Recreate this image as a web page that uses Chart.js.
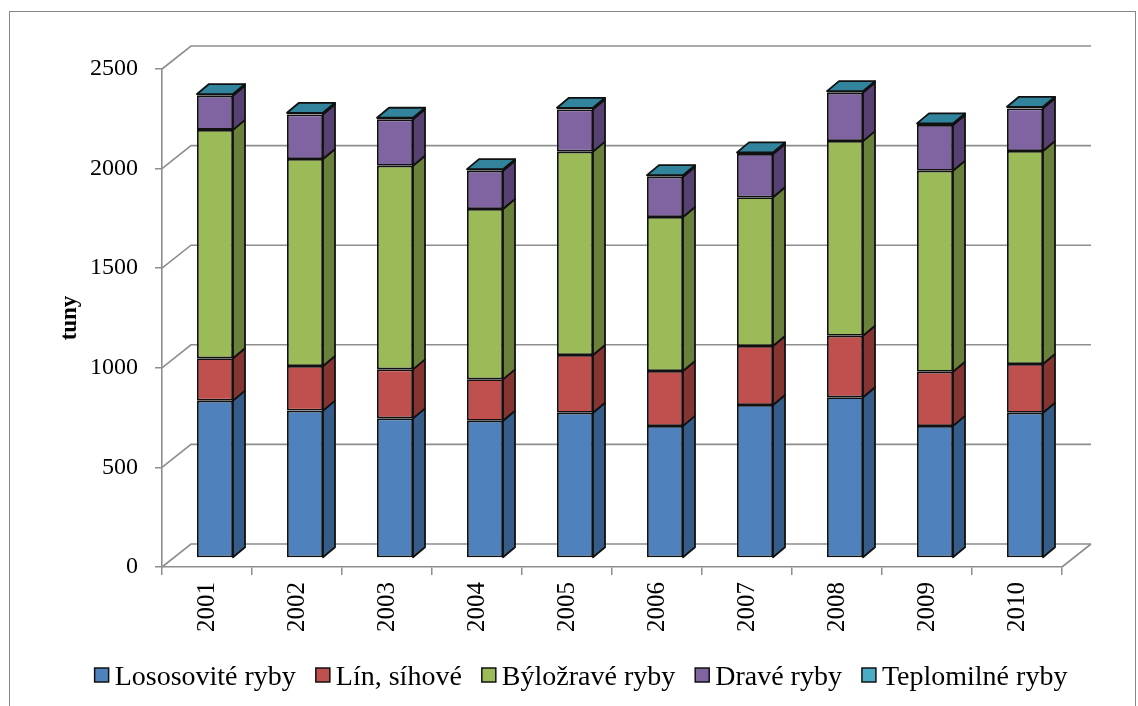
<!DOCTYPE html>
<html>
<head>
<meta charset="utf-8">
<script src="https://cdn.jsdelivr.net/npm/chart.js@4"></script>
<style>
  html, body { margin: 0; padding: 0; background: #fff; }
  #wrap { width: 1138px; height: 706px; position: relative; }
</style>
</head>
<body>
<div id="wrap"><canvas id="c" width="1138" height="706"></canvas></div>
<script>
// Fish catch by group, tonnes per year
const years = ['2001', '2002', '2003', '2004', '2005', '2006', '2007', '2008', '2009', '2010'];
const lososovite = [790, 740, 701, 689, 729, 663, 768, 807, 663, 729];
const lin = [213, 224, 246, 208, 290, 276, 296, 309, 272, 245];
const bylozrave = [1146, 1039, 1022, 855, 1021, 773, 747, 977, 1009, 1069];
const drave = [172, 224, 233, 192, 212, 202, 217, 243, 230, 214];
const teplomilne = [8, 8, 8, 8, 8, 8, 8, 8, 8, 8];
const seriesNames = ['Lososovité ryby', 'Lín, síhové', 'Býložravé ryby', 'Dravé ryby', 'Teplomilné ryby'];
const yMax = 2500;
const yStep = 500;

const frontColors = ['#4F81BD', '#C0504D', '#9BBB59', '#8064A2', '#4BACC6'];
const sideColors = ['#365C89', '#843532', '#6A813B', '#574172', '#31849B'];
const gridColor = '#8e8e8e';
const serif = '"Liberation Serif", "Times New Roman", serif';

// perspective offsets
const WALL_DX = 29, WALL_DY = -23;   // depth of the floor / back wall
const BAR_DX = 8, BAR_DY = -9;       // where the bar fronts sit inside that depth
const SIDE_DX = 12, SIDE_DY = -10;   // depth of each column

const depth3d = {
  id: 'depth3d',
  beforeDraw(chart) {
    const ctx = chart.ctx;
    ctx.save();
    ctx.strokeStyle = '#868686';
    ctx.lineWidth = 1;
    ctx.strokeRect(9.5, 11.5, 1126, 720);
    ctx.restore();
  },
  beforeDatasetsDraw(chart) {
    const ctx = chart.ctx;
    const { left, right, bottom } = chart.chartArea;
    const ys = chart.scales.y;
    ctx.save();
    ctx.strokeStyle = gridColor;
    ctx.lineWidth = 1.6;
    for (let v = 0; v <= yMax; v += yStep) {
      const y = ys.getPixelForValue(v);
      ctx.beginPath();
      ctx.moveTo(left, y);
      ctx.lineTo(left + WALL_DX, y + WALL_DY);
      ctx.lineTo(right + WALL_DX, y + WALL_DY);
      ctx.stroke();
    }
    // floor right edge
    ctx.beginPath();
    ctx.moveTo(right, bottom);
    ctx.lineTo(right + WALL_DX, bottom + WALL_DY);
    ctx.stroke();
    ctx.restore();

    ctx.save();
    ctx.translate(BAR_DX, BAR_DY);
  },
  afterDatasetsDraw(chart) {
    const ctx = chart.ctx;
    ctx.lineWidth = 1.8;
    ctx.strokeStyle = '#111';
    ctx.lineJoin = 'round';
    const n = chart.data.datasets.length;
    for (let d = 0; d < n; d++) {
      const meta = chart.getDatasetMeta(d);
      meta.data.forEach((bar) => {
        const p = bar.getProps(['x', 'y', 'base', 'width'], true);
        const l = p.x - p.width / 2, r = p.x + p.width / 2;
        const t = Math.min(p.y, p.base), b = Math.max(p.y, p.base);
        // side face
        ctx.beginPath();
        ctx.moveTo(r, b);
        ctx.lineTo(r + SIDE_DX, b + SIDE_DY);
        ctx.lineTo(r + SIDE_DX, t + SIDE_DY);
        ctx.lineTo(r, t);
        ctx.closePath();
        ctx.fillStyle = sideColors[d];
        ctx.fill();
        ctx.stroke();
        // top face on the highest segment
        if (d === n - 1) {
          ctx.beginPath();
          ctx.moveTo(l, t);
          ctx.lineTo(l + SIDE_DX, t + SIDE_DY);
          ctx.lineTo(r + SIDE_DX, t + SIDE_DY);
          ctx.lineTo(r, t);
          ctx.closePath();
          ctx.fillStyle = sideColors[d];
          ctx.fill();
          ctx.stroke();
        }
      });
    }
    ctx.restore();
  },
  afterDraw(chart) {
    // legend row
    const ctx = chart.ctx;
    const ds = chart.data.datasets;
    ctx.save();
    ctx.font = '28px ' + serif;
    ctx.textBaseline = 'alphabetic';
    const box = 14, gapIn = 6, gapOut = 20;
    let total = 0;
    const widths = ds.map(s => ctx.measureText(s.label).width);
    widths.forEach((w, i) => { total += box + gapIn + w + (i < widths.length - 1 ? gapOut : 0); });
    let x = 581 - total / 2;
    const yBase = 685;
    ds.forEach((s, i) => {
      ctx.fillStyle = s.backgroundColor;
      ctx.fillRect(x, 668, box, box);
      ctx.strokeStyle = '#111';
      ctx.lineWidth = 1.5;
      ctx.strokeRect(x, 668, box, box);
      ctx.fillStyle = '#000';
      ctx.fillText(s.label, x + box + gapIn, yBase);
      x += box + gapIn + widths[i] + gapOut;
    });
    ctx.restore();
  }
};

const seriesValues = [lososovite, lin, bylozrave, drave, teplomilne];
const datasets = seriesValues.map((vals, i) => ({
  label: seriesNames[i],
  data: vals,
  backgroundColor: frontColors[i],
  borderColor: '#111',
  borderWidth: 1.8,
  borderSkipped: false,
  categoryPercentage: 1.0,
  barPercentage: 0.4,
  clip: false
}));

new Chart(document.getElementById('c'), {
  type: 'bar',
  data: { labels: years, datasets },
  options: {
    responsive: false,
    animation: false,
    layout: { padding: { top: 69, right: 76, left: 0, bottom: 0 } },
    plugins: { legend: { display: false }, tooltip: { enabled: false } },
    scales: {
      x: {
        stacked: true,
        grid: { drawOnChartArea: false, drawTicks: true, tickLength: 8, color: gridColor, lineWidth: 1.5, offset: true },
        border: { display: true, color: gridColor, width: 1.6 },
        ticks: { color: '#000', font: { family: serif, size: 25 }, minRotation: 90, maxRotation: 90, padding: 7 },
        afterFit(scale) { scale.height = 139; }
      },
      y: {
        stacked: true,
        min: 0,
        max: yMax,
        grid: { drawOnChartArea: false, drawTicks: true, tickLength: 7, color: gridColor, lineWidth: 1.5 },
        border: { display: true, color: gridColor, width: 1.6 },
        ticks: { stepSize: yStep, color: '#000', font: { family: serif, size: 24 }, padding: 17, callback: (v) => String(v) },
        title: { display: true, text: 'tuny', color: '#000', font: { family: serif, size: 23, weight: 'bold' }, padding: { top: 56, bottom: 0 } },
        afterFit(scale) { scale.width = 162; }
      }
    }
  },
  plugins: [depth3d]
});
</script>
</body>
</html>
